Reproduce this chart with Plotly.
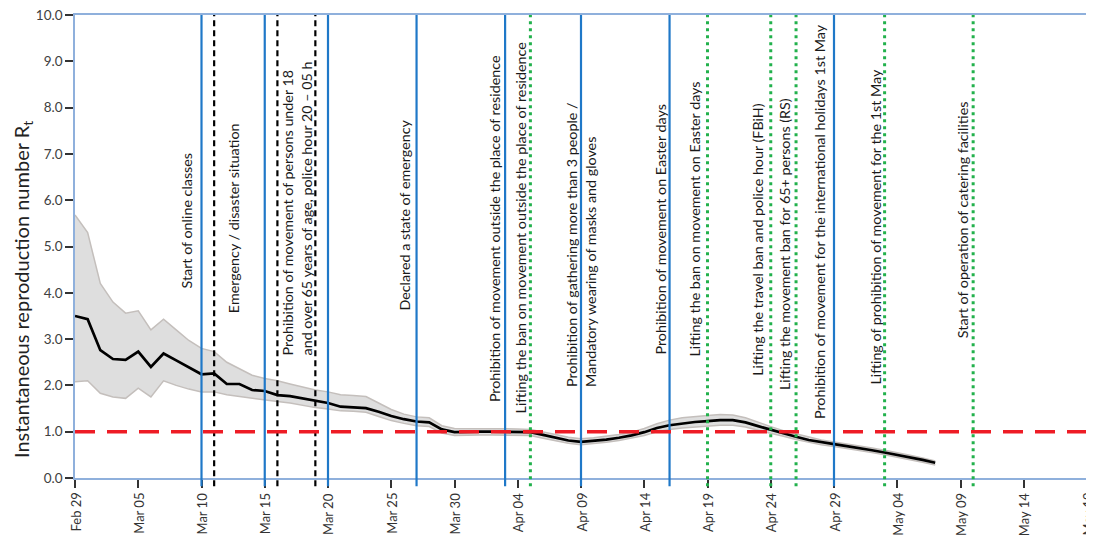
import plotly.graph_objects as go
import pandas as pd

# ---------------- data ----------------
start_date = "2020-02-29"
r_mean = [3.50, 3.43, 2.76, 2.57, 2.55, 2.73, 2.40, 2.69, 2.54, 2.39,
          2.24, 2.26, 2.03, 2.03, 1.90, 1.88, 1.79, 1.77, 1.72, 1.67,
          1.62, 1.54, 1.52, 1.51, 1.43, 1.34, 1.27, 1.22, 1.20, 1.05,
          0.99, 1.00, 1.00, 1.00, 1.00, 1.00, 0.99, 0.93, 0.87, 0.81,
          0.78, 0.80, 0.83, 0.87, 0.92, 0.99, 1.08, 1.14, 1.18, 1.21,
          1.23, 1.25, 1.25, 1.20, 1.12, 1.04, 0.96, 0.89, 0.82, 0.77,
          0.73, 0.69, 0.65, 0.60, 0.55, 0.50, 0.45, 0.39, 0.33]
r_upper = [5.68, 5.30, 4.20, 3.80, 3.56, 3.61, 3.20, 3.43, 3.20, 2.97,
           2.80, 2.73, 2.50, 2.36, 2.22, 2.15, 2.10, 2.03, 1.96, 1.90,
           1.86, 1.80, 1.78, 1.76, 1.62, 1.48, 1.38, 1.32, 1.30, 1.13,
           1.07, 1.07, 1.07, 1.07, 1.07, 1.06, 1.05, 1.00, 0.94, 0.88,
           0.85, 0.87, 0.90, 0.94, 0.99, 1.07, 1.17, 1.25, 1.30, 1.33,
           1.35, 1.37, 1.36, 1.30, 1.20, 1.11, 1.02, 0.95, 0.88, 0.82,
           0.78, 0.74, 0.69, 0.65, 0.60, 0.55, 0.49, 0.43, 0.37]
r_lower = [2.08, 2.10, 1.83, 1.75, 1.72, 1.94, 1.75, 2.10, 2.00, 1.92,
           1.86, 1.86, 1.80, 1.76, 1.72, 1.68, 1.65, 1.62, 1.57, 1.52,
           1.49, 1.45, 1.44, 1.42, 1.33, 1.24, 1.18, 1.13, 1.11, 0.97,
           0.92, 0.93, 0.93, 0.93, 0.93, 0.93, 0.92, 0.86, 0.80, 0.75,
           0.72, 0.74, 0.77, 0.81, 0.86, 0.92, 1.00, 1.05, 1.08, 1.10,
           1.12, 1.14, 1.14, 1.10, 1.03, 0.97, 0.90, 0.83, 0.77, 0.72,
           0.68, 0.64, 0.60, 0.55, 0.50, 0.45, 0.39, 0.34, 0.28]

threshold = 1.0

blue_dates = ["2020-03-10", "2020-03-15", "2020-03-20", "2020-03-27",
              "2020-04-03", "2020-04-09", "2020-04-16", "2020-04-29"]
black_dates = ["2020-03-11", "2020-03-16", "2020-03-19"]
green_dates = ["2020-04-05", "2020-04-19", "2020-04-24", "2020-04-26",
               "2020-05-03", "2020-05-10"]

event_dates = ["2020-03-10", "2020-03-11", "2020-03-16", "2020-03-27",
               "2020-04-03", "2020-04-05", "2020-04-09", "2020-04-16",
               "2020-04-19", "2020-04-24", "2020-04-26", "2020-04-29",
               "2020-05-03", "2020-05-10"]
event_labels = [
    "Start of online classes",
    "Emergency / disaster situation",
    "Prohibition of movement of persons under 18<br>and over 65 years of age, police hour 20 – 05 h",
    "Declared a state of emergency",
    "Prohibition of movement outside the place of residence",
    "Lifting the ban on movement outside the place of residence",
    "Prohibition of gathering more than 3 people /<br>Mandatory wearing of masks and gloves",
    "Prohibition of movement on Easter days",
    "Lifting the ban on movement on Easter days",
    "Lifting the travel ban and police hour (FBiH)",
    "Lifting the movement ban for 65+ persons (RS)",
    "Prohibition of movement for the international holidays 1st May",
    "Lifting of prohibition of movement for the 1st May",
    "Start of operation of catering facilities",
]
y_title = "Instantaneous reproduction number R<sub>t</sub>"

x_range = ["2020-02-29", "2020-05-19"]
y_range = [0, 10]
tick_dates = ["2020-02-29", "2020-03-05", "2020-03-10", "2020-03-15", "2020-03-20",
              "2020-03-25", "2020-03-30", "2020-04-04", "2020-04-09", "2020-04-14",
              "2020-04-19", "2020-04-24", "2020-04-29", "2020-05-04", "2020-05-09",
              "2020-05-14", "2020-05-19"]
tick_labels = ["Feb 29", "Mar 05", "Mar 10", "Mar 15", "Mar 20", "Mar 25", "Mar 30",
               "Apr 04", "Apr 09", "Apr 14", "Apr 19", "Apr 24", "Apr 29", "May 04",
               "May 09", "May 14", "May 19"]

# ---------------- layout helpers (pixel tweaks) ----------------
label_xshift = [-15, 19, 20, -13, -11, -10, 0, -9, -14, -14, -12, -14, -10, -11]
label_ycenter_px = [221, 218, 208, 215, 229, 228, 245, 230, 219, 240, 244, 222, 227, 220]
label_align = ["center", "center", "left", "center", "center", "center", "left",
               "center", "center", "center", "center", "center", "center", "center"]

PLOT_TOP, PLOT_BOTTOM = 15, 478
FONT = "Lato, Noto Sans, sans-serif"

dates = pd.date_range(start_date, periods=len(r_mean), freq="D")

fig = go.Figure()

# band
fig.add_trace(go.Scatter(x=dates, y=r_upper, mode="lines",
                         line=dict(color="#c4bfbc", width=1.5),
                         hoverinfo="skip", showlegend=False))
fig.add_trace(go.Scatter(x=dates, y=r_lower, mode="lines",
                         line=dict(color="#c4bfbc", width=1.5),
                         fill="tonexty", fillcolor="#dedede",
                         hoverinfo="skip", showlegend=False))
# mean
fig.add_trace(go.Scatter(x=dates, y=r_mean, mode="lines",
                         line=dict(color="#000000", width=2.7),
                         showlegend=False))

shapes = []
for d in blue_dates:
    shapes.append(dict(type="line", xref="x", yref="paper", x0=d, x1=d,
                       y0=-0.018, y1=1, line=dict(color="#1f78c8", width=2.2)))
for d in black_dates:
    shapes.append(dict(type="line", xref="x", yref="paper", x0=d, x1=d,
                       y0=-0.018, y1=1, line=dict(color="#000000", width=2.2, dash="6px,4px")))
for d in green_dates:
    shapes.append(dict(type="line", xref="x", yref="paper", x0=d, x1=d,
                       y0=-0.018, y1=1, line=dict(color="#22b14c", width=3, dash="3px,4px")))
# threshold
shapes.append(dict(type="line", xref="paper", yref="y", x0=0, x1=1,
                   y0=threshold, y1=threshold,
                   line=dict(color="#ee1c25", width=3.5, dash="20px,12px")))

annotations = []
for d, txt, xs, yc, al in zip(event_dates, event_labels, label_xshift,
                              label_ycenter_px, label_align):
    annotations.append(dict(
        x=d, xref="x",
        y=(PLOT_BOTTOM - yc) / (PLOT_BOTTOM - PLOT_TOP), yref="paper",
        text=txt, textangle=-90, showarrow=False,
        xanchor="center", yanchor="middle", xshift=xs, align=al,
        font=dict(family=FONT, size=14.3, color="#1a1a1a"),
    ))
# x tick labels, centred on their ticks (drawn as annotations so the last
# one stays inside the window)
for d, txt in zip(tick_dates, tick_labels):
    annotations.append(dict(
        x=d, xref="x", y=0, yref="paper", yshift=-13,
        text=txt, textangle=-90, showarrow=False,
        xanchor="center", yanchor="top",
        font=dict(family=FONT, size=13, color="#333333"),
    ))
# y-axis title placed as annotation (center at page px x=22, y=290)
annotations.append(dict(
    x=0, xref="paper", y=(PLOT_BOTTOM - 290) / (PLOT_BOTTOM - PLOT_TOP), yref="paper",
    xshift=-53, text=y_title, textangle=-90, showarrow=False,
    xanchor="center", yanchor="middle",
    font=dict(family=FONT, size=20, color="#222222"),
))

# the page body has an 8px default margin; compensate so the plot lands
# at the same pixel positions as the reference
fig.update_layout(
    width=1094, height=542,
    margin=dict(l=67, r=15, t=7, b=72, autoexpand=False),
    paper_bgcolor="white", plot_bgcolor="white",
    shapes=shapes, annotations=annotations,
    font=dict(family=FONT),
)

fig.update_xaxes(
    type="date", range=x_range, automargin=False,
    tickvals=tick_dates, showticklabels=False,
    ticks="outside", ticklen=8, tickwidth=2, tickcolor="#333333",
    showgrid=False, zeroline=False,
    showline=True, linecolor="#8fb0dc", linewidth=1.5, mirror=True,
)
fig.update_yaxes(
    range=y_range, dtick=1, tickformat=".1f", automargin=False, ticklabeloverflow="allow",
    ticks="outside", ticklen=8, tickwidth=2, tickcolor="#333333",
    tickfont=dict(size=13.5, color="#404040"),
    showgrid=False, zeroline=False,
    showline=True, linecolor="#8fb0dc", linewidth=1.5, mirror=True,
)

fig.write_html("out.html")
